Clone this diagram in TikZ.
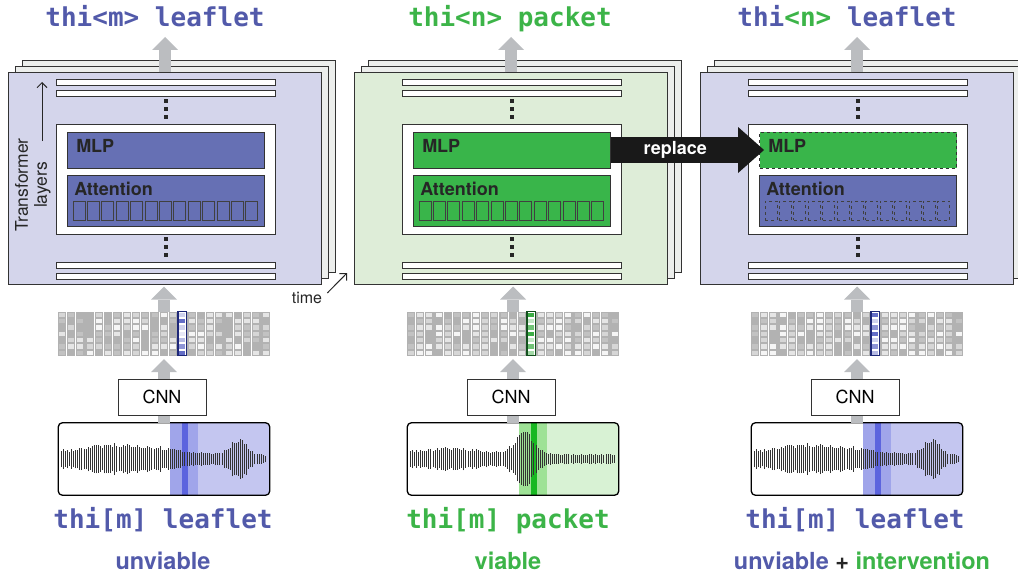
\documentclass[tikz,border=0pt]{standalone}
\usepackage{fontspec}
\setsansfont{TeX Gyre Heros}
\newfontfamily\codefont{DejaVu Sans Mono}
\usetikzlibrary{arrows.meta, positioning, calc}

\definecolor{txtblue}{RGB}{82,90,170}
\definecolor{txtgreen}{RGB}{60,180,72}
\definecolor{bluebg}{RGB}{212,213,235}
\definecolor{greenbg}{RGB}{222,237,216}
\definecolor{bluebox}{RGB}{102,112,180}
\definecolor{greenbox}{RGB}{57,181,74}
\definecolor{backgray}{RGB}{236,238,236}
\definecolor{arrowgray}{RGB}{187,189,192}
% waveform highlights
\definecolor{wlblue}{RGB}{196,198,240}
\definecolor{wmblue}{RGB}{160,165,234}
\definecolor{wdblue}{RGB}{92,100,222}
\definecolor{wlgreen}{RGB}{216,242,212}
\definecolor{wmgreen}{RGB}{158,226,150}
\definecolor{wdgreen}{RGB}{24,184,34}
% feature column highlights
\definecolor{gdblue}{RGB}{92,102,196}
\definecolor{geblue}{RGB}{30,40,120}
\definecolor{gdgreen}{RGB}{50,170,60}
\definecolor{gegreen}{RGB}{20,80,30}

\pgfmathdeclarerandomlist{cellshade}{{4}{10}{16}{24}{30}}
\pgfmathdeclarerandomlist{hlshade}{{15}{30}{45}{70}{95}}

\tikzset{
  stackframe/.style={draw=black!80, line width=1pt, minimum width=313pt, minimum height=211pt, inner sep=0pt},
  layerbar/.style={draw=black!80, line width=0.9pt, fill=white, minimum width=219pt, minimum height=6pt, inner sep=0pt},
  layerdot/.style={fill=black!85, minimum size=3.5pt, inner sep=0pt},
  innerbox/.style={draw=black!80, line width=0.9pt, fill=white, minimum width=219pt, minimum height=110pt, inner sep=0pt},
  block/.style={draw=black!80, line width=0.9pt, minimum width=197pt, inner sep=0pt},
  blocklabel/.style={font=\sffamily\bfseries\fontsize{18}{20}\selectfont, text=black!85, inner sep=0pt, anchor=west},
  headsq/.style={draw=black!75, line width=0.8pt, minimum width=12pt, minimum height=19pt, inner sep=0pt},
  fatarrow/.style={draw=arrowgray, line width=12pt, -{Triangle[width=26pt, length=13pt, line width=0pt]}},
  cnnbox/.style={draw=black!80, line width=0.9pt, fill=white, minimum width=88pt, minimum height=36pt, inner sep=0pt, font=\sffamily\fontsize{18}{20}\selectfont},
  featgrid/.style={minimum width=213pt, minimum height=44pt, inner sep=0pt},
  wavebox/.style={minimum width=211pt, minimum height=72pt, inner sep=0pt},
  waveedge/.style={draw=black, line width=1.3pt, rounded corners=4pt},
  wavebar/.style={draw=black!80, line width=0.9pt},
  wordlabel/.style={font=\codefont\bfseries\fontsize{26}{28}\selectfont, inner sep=0pt},
  verdict/.style={font=\sffamily\bfseries\fontsize{23.5}{26}\selectfont, inner sep=0pt},
  sidelabel/.style={font=\sffamily\fontsize{17.5}{19}\selectfont, text=black!85, inner sep=0pt},
  thinarrow/.style={draw=black!85, line width=1pt, -{Straight Barb[length=5pt, width=10pt]}},
  replacearrow/.style={draw=black!90, line width=26pt, -{Triangle[width=46pt, length=26pt, line width=0pt]}},
}

\begin{document}
\begin{tikzpicture}[x=1pt, y=1pt,
  declare function={
    gbump(\t,\m,\s)=exp(-min(9,(\t-\m)*(\t-\m)/(\s*\s)));
    leafenv(\t)=4+11*gbump(\t,0.3,0.32)+16*gbump(\t,0.87,0.06);
    packenv(\t)=5+6*gbump(\t,0.2,0.25)+22*gbump(\t,0.56,0.065);
  }]
\useasboundingbox (0,0) rectangle (1018,-578);

% predicted words
\node[wordlabel, text=txtblue, anchor=base] (ttl1) at (155,-27) {thi<m> leaflet};
\node[wordlabel, text=txtgreen, anchor=base] (ttl2) at (510,-27) {thi<n> packet};
\node[wordlabel, text=txtblue, anchor=base] (ttl3) at (847,-27) {thi\textcolor{txtgreen}{<n>} leaflet};

% transformer stacks
\foreach \i/\cx/\bg/\mlpc/\attc/\look in {1/165/bluebg/bluebox/bluebox/solid, 2/511/greenbg/greenbox/greenbox/solid, 3/857/bluebg/greenbox/bluebox/dashed} {
  \node[stackframe, fill=backgray] (bkB\i) at (\cx+14,-166.5) {};
  \node[stackframe, fill=backgray] (bkA\i) at (\cx+7,-172.5) {};
  \node[stackframe, fill=\bg] (fr\i) at (\cx,-178.5) {};
  \coordinate (out\i) at (\cx,-37);
  \draw[fatarrow] (fr\i.north) -- (out\i);
  \foreach \ly [count=\n] in {82.5,93,265,276}
    \node[layerbar] (bar\i-\n) at (\cx+1,-\ly) {};
  \foreach \dy [count=\n] in {101,109,117,239,247,255}
    \node[layerdot] (dot\i-\n) at (\cx+1,-\dy) {};
  \node[innerbox] (core\i) at (\cx+1,-179) {};
  \node[block, fill=\mlpc, \look, minimum height=36pt] (mlp\i) at (\cx+1,-150) {};
  \node[blocklabel] (mlpname\i) at ([xshift=9pt,yshift=-14.5pt]mlp\i.north west) {MLP};
  \node[block, fill=\attc, minimum height=51pt] (att\i) at (\cx+1,-200.5) {};
  \node[blocklabel] (attname\i) at ([xshift=7pt,yshift=-14.5pt]att\i.north west) {Attention};
  \foreach \sq in {0,...,12}
    \node[headsq, \look] (head\i-\sq) at (\cx-86+\sq*14.4,-210.5) {};
}

% audio -> CNN -> frames
\foreach \i/\lx/\env/\hc in {1/164/leafenv/blue, 2/513/packenv/green, 3/857/leafenv/blue} {
  \node[featgrid] (grid\i) at (\lx,-334) {};
  \foreach \col in {0,...,22} {
    \fill[fill=black!30] ($(grid\i.north west)+(\col*9.26+0.4,0)$) rectangle ++(8.4,-44);
    \foreach \row in {0,...,6} {
      \pgfmathrandomitem{\shade}{cellshade}
      \fill[fill=black!\shade] ($(grid\i.north west)+(\col*9.26+1.6,-\row*6.29-1.1)$) rectangle ++(6,-4.2);
    }
  }
  \fill[white] ($(grid\i.north west)+(13*9.26+0.4,0)$) rectangle ++(8.4,-44);
  \foreach \row in {0,...,6} {
    \pgfmathrandomitem{\shade}{hlshade}
    \fill[fill=gd\hc!\shade!white] ($(grid\i.north west)+(13*9.26+1.6,-\row*6.29-1.1)$) rectangle ++(6,-4.2);
  }
  \draw[draw=ge\hc, line width=1.3pt] ($(grid\i.north west)+(13*9.26+0.4,0)$) rectangle ++(8.4,-44);

  \node[wavebox, fill=white] (wave\i) at (\lx,-459) {};
  \begin{scope}
    \clip[rounded corners=4pt] (wave\i.south west) rectangle (wave\i.north east);
    \fill[fill=wl\hc] ([xshift=140pt]wave\i.south west) rectangle (wave\i.north east);
    \fill[fill=wm\hc] ([xshift=112pt]wave\i.south west) rectangle ([xshift=140pt]wave\i.north west);
    \fill[fill=wd\hc] ([xshift=124pt]wave\i.south west) rectangle ([xshift=129.5pt]wave\i.north west);
    \pgfmathsetseed{11}
    \foreach \kk in {0,...,99} {
      \pgfmathsetmacro\tpos{\kk/99}
      \pgfmathsetmacro\amp{\env(\tpos)*(0.75+0.35*rnd)}
      \draw[wavebar] ($(wave\i.west)+(3+\kk*2.06,-\amp)$) -- ++(0,2*\amp);
    }
  \end{scope}
  \draw[waveedge] (wave\i.south west) rectangle (wave\i.north east);

  \draw[fatarrow, shorten >=2pt] (grid\i.north) -- (grid\i.north |- fr\i.south);
  \draw[fatarrow, shorten >=3pt] (wave\i.north) -- (grid\i.south);
  \node[cnnbox] (cnn\i) at (\lx-2,-397) {CNN};
}

% axes
\node[sidelabel, rotate=90, align=center] (layerlbl) at (33,-185) {Transformer\\layers};
\coordinate (layup) at (42,-82);
\draw[thinarrow] ([xshift=9pt,yshift=-3pt]layerlbl.east) -- (layup);
\node[sidelabel, font=\sffamily\fontsize{16}{18}\selectfont] (timelbl) at (307,-298) {time};
\coordinate (timeup) at (347,-273);
\draw[thinarrow] ([xshift=5pt,yshift=5pt]timelbl.east) -- (timeup);

% patching
\draw[replacearrow] (mlp2.east) -- ([xshift=5pt]mlp3.west)
  node[pos=0.42, text=white, font=\sffamily\bfseries\fontsize{18}{20}\selectfont] (replacelbl) {replace};

% input words
\node[wordlabel, text=txtblue, anchor=base] (word1) at (163,-528) {thi[m] leaflet};
\node[wordlabel, text=txtgreen, anchor=base] (word2) at (508,-528) {thi[m] packet};
\node[wordlabel, text=txtblue, anchor=base] (word3) at (855,-528) {thi[m] leaflet};
\node[verdict, text=txtblue, anchor=base] (verdict1) at (163,-569) {unviable};
\node[verdict, text=txtgreen, anchor=base] (verdict2) at (508,-569) {viable};
\node[verdict, text=txtblue, anchor=base] (verdict3) at (862,-569) {unviable \textcolor{black!85}{+} \textcolor{txtgreen}{intervention}};
\end{tikzpicture}
\end{document}
